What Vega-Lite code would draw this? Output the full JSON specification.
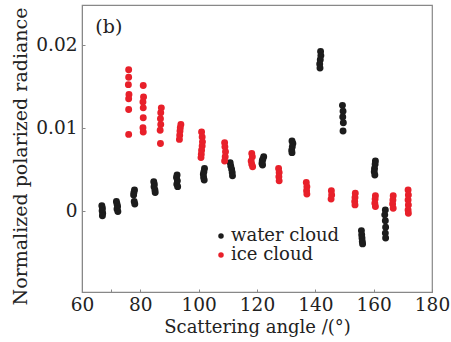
{
  "$schema": "https://vega.github.io/schema/vega-lite/v6.json",
  "width": 350,
  "height": 287,
  "autosize": {"type": "none"},
  "padding": {"left": 82, "top": 5, "right": 19, "bottom": 50},
  "background": "white",
  "config": {
    "font": "DejaVu Serif",
    "view": {"stroke": "#888888", "strokeWidth": 1.2},
    "axis": {"grid": false, "domainColor": "#888888", "tickColor": "#888888", "labelColor": "#222222", "titleColor": "#222222", "labelFont": "DejaVu Serif", "titleFont": "DejaVu Serif", "labelFontSize": 18.5, "titleFontSize": 18, "titleFontWeight": "normal", "tickSize": -3}
  },
  "datasets": {
    "pts": [
      {"a": 66.8, "v": 0.0006, "c": "water cloud"}, {"a": 67.0, "v": 0.0003, "c": "water cloud"}, {"a": 66.9, "v": 0.0, "c": "water cloud"}, {"a": 67.1, "v": -0.0003, "c": "water cloud"}, {"a": 67.0, "v": -0.0006, "c": "water cloud"},
      {"a": 71.8, "v": 0.0011, "c": "water cloud"}, {"a": 72.0, "v": 0.0008, "c": "water cloud"}, {"a": 72.2, "v": 0.0005, "c": "water cloud"}, {"a": 72.0, "v": 0.0002, "c": "water cloud"}, {"a": 72.3, "v": -0.0001, "c": "water cloud"},
      {"a": 78.0, "v": 0.0025, "c": "water cloud"}, {"a": 77.8, "v": 0.0022, "c": "water cloud"}, {"a": 77.7, "v": 0.0019, "c": "water cloud"}, {"a": 77.9, "v": 0.0011, "c": "water cloud"}, {"a": 78.1, "v": 0.0008, "c": "water cloud"},
      {"a": 84.6, "v": 0.0035, "c": "water cloud"}, {"a": 84.8, "v": 0.0032, "c": "water cloud"}, {"a": 84.7, "v": 0.0029, "c": "water cloud"}, {"a": 85.0, "v": 0.0025, "c": "water cloud"}, {"a": 85.1, "v": 0.0022, "c": "water cloud"},
      {"a": 92.6, "v": 0.0043, "c": "water cloud"}, {"a": 92.4, "v": 0.004, "c": "water cloud"}, {"a": 92.7, "v": 0.0036, "c": "water cloud"}, {"a": 92.5, "v": 0.0032, "c": "water cloud"}, {"a": 92.8, "v": 0.0029, "c": "water cloud"},
      {"a": 102.0, "v": 0.0051, "c": "water cloud"}, {"a": 101.8, "v": 0.0047, "c": "water cloud"}, {"a": 101.6, "v": 0.0044, "c": "water cloud"}, {"a": 101.7, "v": 0.004, "c": "water cloud"}, {"a": 101.9, "v": 0.0037, "c": "water cloud"},
      {"a": 110.8, "v": 0.0058, "c": "water cloud"}, {"a": 111.0, "v": 0.0054, "c": "water cloud"}, {"a": 111.3, "v": 0.005, "c": "water cloud"}, {"a": 111.5, "v": 0.0046, "c": "water cloud"}, {"a": 111.6, "v": 0.0042, "c": "water cloud"},
      {"a": 122.3, "v": 0.0065, "c": "water cloud"}, {"a": 122.0, "v": 0.0062, "c": "water cloud"}, {"a": 121.8, "v": 0.006, "c": "water cloud"}, {"a": 121.7, "v": 0.0057, "c": "water cloud"}, {"a": 121.9, "v": 0.0055, "c": "water cloud"},
      {"a": 132.0, "v": 0.0084, "c": "water cloud"}, {"a": 132.3, "v": 0.0081, "c": "water cloud"}, {"a": 132.1, "v": 0.0077, "c": "water cloud"}, {"a": 131.9, "v": 0.0073, "c": "water cloud"}, {"a": 132.0, "v": 0.007, "c": "water cloud"},
      {"a": 141.8, "v": 0.0192, "c": "water cloud"}, {"a": 141.9, "v": 0.0187, "c": "water cloud"}, {"a": 141.7, "v": 0.0182, "c": "water cloud"}, {"a": 141.5, "v": 0.0177, "c": "water cloud"}, {"a": 141.6, "v": 0.0172, "c": "water cloud"},
      {"a": 149.3, "v": 0.0127, "c": "water cloud"}, {"a": 149.5, "v": 0.012, "c": "water cloud"}, {"a": 149.4, "v": 0.0113, "c": "water cloud"}, {"a": 149.6, "v": 0.0106, "c": "water cloud"}, {"a": 149.5, "v": 0.0096, "c": "water cloud"},
      {"a": 155.8, "v": -0.0024, "c": "water cloud"}, {"a": 155.9, "v": -0.0029, "c": "water cloud"}, {"a": 156.0, "v": -0.0033, "c": "water cloud"}, {"a": 156.1, "v": -0.0037, "c": "water cloud"}, {"a": 156.2, "v": -0.004, "c": "water cloud"},
      {"a": 160.6, "v": 0.006, "c": "water cloud"}, {"a": 160.5, "v": 0.0056, "c": "water cloud"}, {"a": 160.3, "v": 0.0051, "c": "water cloud"}, {"a": 160.2, "v": 0.0047, "c": "water cloud"}, {"a": 160.4, "v": 0.0043, "c": "water cloud"},
      {"a": 164.0, "v": 0.0001, "c": "water cloud"}, {"a": 163.8, "v": -0.0005, "c": "water cloud"}, {"a": 164.0, "v": -0.0012, "c": "water cloud"}, {"a": 164.1, "v": -0.002, "c": "water cloud"}, {"a": 164.0, "v": -0.0027, "c": "water cloud"}, {"a": 164.1, "v": -0.0033, "c": "water cloud"},
      {"a": 76.0, "v": 0.017, "c": "ice cloud"}, {"a": 76.0, "v": 0.0161, "c": "ice cloud"}, {"a": 75.9, "v": 0.0152, "c": "ice cloud"}, {"a": 76.1, "v": 0.014, "c": "ice cloud"}, {"a": 76.0, "v": 0.0135, "c": "ice cloud"}, {"a": 76.0, "v": 0.0122, "c": "ice cloud"}, {"a": 76.0, "v": 0.0092, "c": "ice cloud"},
      {"a": 81.0, "v": 0.0151, "c": "ice cloud"}, {"a": 81.1, "v": 0.0137, "c": "ice cloud"}, {"a": 80.9, "v": 0.0131, "c": "ice cloud"}, {"a": 81.0, "v": 0.0124, "c": "ice cloud"}, {"a": 81.0, "v": 0.0112, "c": "ice cloud"}, {"a": 80.9, "v": 0.01, "c": "ice cloud"}, {"a": 81.0, "v": 0.0095, "c": "ice cloud"},
      {"a": 87.2, "v": 0.0124, "c": "ice cloud"}, {"a": 87.0, "v": 0.0118, "c": "ice cloud"}, {"a": 86.9, "v": 0.0111, "c": "ice cloud"}, {"a": 87.0, "v": 0.0104, "c": "ice cloud"}, {"a": 86.8, "v": 0.0097, "c": "ice cloud"}, {"a": 86.9, "v": 0.0081, "c": "ice cloud"},
      {"a": 93.9, "v": 0.0104, "c": "ice cloud"}, {"a": 93.7, "v": 0.01, "c": "ice cloud"}, {"a": 93.6, "v": 0.0096, "c": "ice cloud"}, {"a": 93.5, "v": 0.0091, "c": "ice cloud"}, {"a": 93.4, "v": 0.0086, "c": "ice cloud"},
      {"a": 101.0, "v": 0.0095, "c": "ice cloud"}, {"a": 101.2, "v": 0.0089, "c": "ice cloud"}, {"a": 101.3, "v": 0.0083, "c": "ice cloud"}, {"a": 101.2, "v": 0.0078, "c": "ice cloud"}, {"a": 101.0, "v": 0.0073, "c": "ice cloud"}, {"a": 100.9, "v": 0.0068, "c": "ice cloud"}, {"a": 100.8, "v": 0.0064, "c": "ice cloud"},
      {"a": 108.9, "v": 0.0082, "c": "ice cloud"}, {"a": 109.0, "v": 0.0077, "c": "ice cloud"}, {"a": 109.2, "v": 0.0071, "c": "ice cloud"}, {"a": 109.1, "v": 0.0065, "c": "ice cloud"}, {"a": 108.9, "v": 0.006, "c": "ice cloud"},
      {"a": 118.2, "v": 0.0069, "c": "ice cloud"}, {"a": 118.4, "v": 0.0065, "c": "ice cloud"}, {"a": 118.0, "v": 0.006, "c": "ice cloud"}, {"a": 118.2, "v": 0.0056, "c": "ice cloud"}, {"a": 118.5, "v": 0.0053, "c": "ice cloud"},
      {"a": 127.4, "v": 0.0051, "c": "ice cloud"}, {"a": 127.6, "v": 0.0046, "c": "ice cloud"}, {"a": 127.5, "v": 0.0041, "c": "ice cloud"}, {"a": 127.6, "v": 0.0036, "c": "ice cloud"},
      {"a": 136.9, "v": 0.0034, "c": "ice cloud"}, {"a": 137.1, "v": 0.0029, "c": "ice cloud"}, {"a": 137.0, "v": 0.0024, "c": "ice cloud"}, {"a": 137.1, "v": 0.002, "c": "ice cloud"},
      {"a": 145.5, "v": 0.0024, "c": "ice cloud"}, {"a": 145.6, "v": 0.0019, "c": "ice cloud"}, {"a": 145.4, "v": 0.0014, "c": "ice cloud"},
      {"a": 153.7, "v": 0.0021, "c": "ice cloud"}, {"a": 153.6, "v": 0.0016, "c": "ice cloud"}, {"a": 153.5, "v": 0.0011, "c": "ice cloud"}, {"a": 153.6, "v": 0.0007, "c": "ice cloud"},
      {"a": 160.6, "v": 0.0018, "c": "ice cloud"}, {"a": 160.5, "v": 0.0014, "c": "ice cloud"}, {"a": 160.4, "v": 0.0009, "c": "ice cloud"}, {"a": 160.6, "v": 0.0005, "c": "ice cloud"},
      {"a": 166.7, "v": 0.0018, "c": "ice cloud"}, {"a": 166.6, "v": 0.0013, "c": "ice cloud"}, {"a": 166.5, "v": 0.0008, "c": "ice cloud"}, {"a": 166.7, "v": 0.0003, "c": "ice cloud"},
      {"a": 171.8, "v": 0.0025, "c": "ice cloud"}, {"a": 171.9, "v": 0.0019, "c": "ice cloud"}, {"a": 171.8, "v": 0.0013, "c": "ice cloud"}, {"a": 171.9, "v": 0.0007, "c": "ice cloud"}, {"a": 171.8, "v": 0.0001, "c": "ice cloud"}, {"a": 171.9, "v": -0.0003, "c": "ice cloud"}
    ],
    "lbl": [{"a": 69.2, "v": 0.0222, "t": "(b)"}]
  },
  "layer": [
    {
      "data": {"name": "pts"},
      "mark": {"type": "circle", "size": 48, "opacity": 1},
      "encoding": {
        "x": {"field": "a", "type": "quantitative", "scale": {"domain": [60, 180], "nice": false, "zero": false}, "axis": {"values": [60, 70, 80, 100, 120, 140, 160, 180], "labelExpr": "datum.value == 70 ? '' : datum.label", "title": "Scattering angle /(°)", "labelPadding": 6, "titlePadding": 5, "labelFlush": false}},
        "y": {"field": "v", "type": "quantitative", "scale": {"domain": [-0.0098, 0.0248], "nice": false, "zero": false}, "axis": {"values": [0, 0.01, 0.02], "labelExpr": "datum.value == 0 ? '0' : format(datum.value, '.2f')", "title": "Normalized polarized radiance", "titleFontSize": 19, "titleY": 151, "labelPadding": 8, "titlePadding": 5}},
        "color": {"field": "c", "type": "nominal", "scale": {"domain": ["water cloud", "ice cloud"], "range": ["#1c1c1c", "#e8202a"]}, "legend": {"title": null, "orient": "none", "legendX": 130, "legendY": 222, "labelFont": "DejaVu Serif", "labelFontSize": 18, "labelColor": "#222222", "symbolType": "circle", "symbolSize": 30, "rowPadding": 1, "labelOffset": 1}}
      }
    },
    {
      "data": {"name": "lbl"},
      "mark": {"type": "text", "fontSize": 19, "font": "DejaVu Serif", "color": "#222222"},
      "encoding": {
        "x": {"field": "a", "type": "quantitative"},
        "y": {"field": "v", "type": "quantitative"},
        "text": {"field": "t"}
      }
    }
  ]
}
